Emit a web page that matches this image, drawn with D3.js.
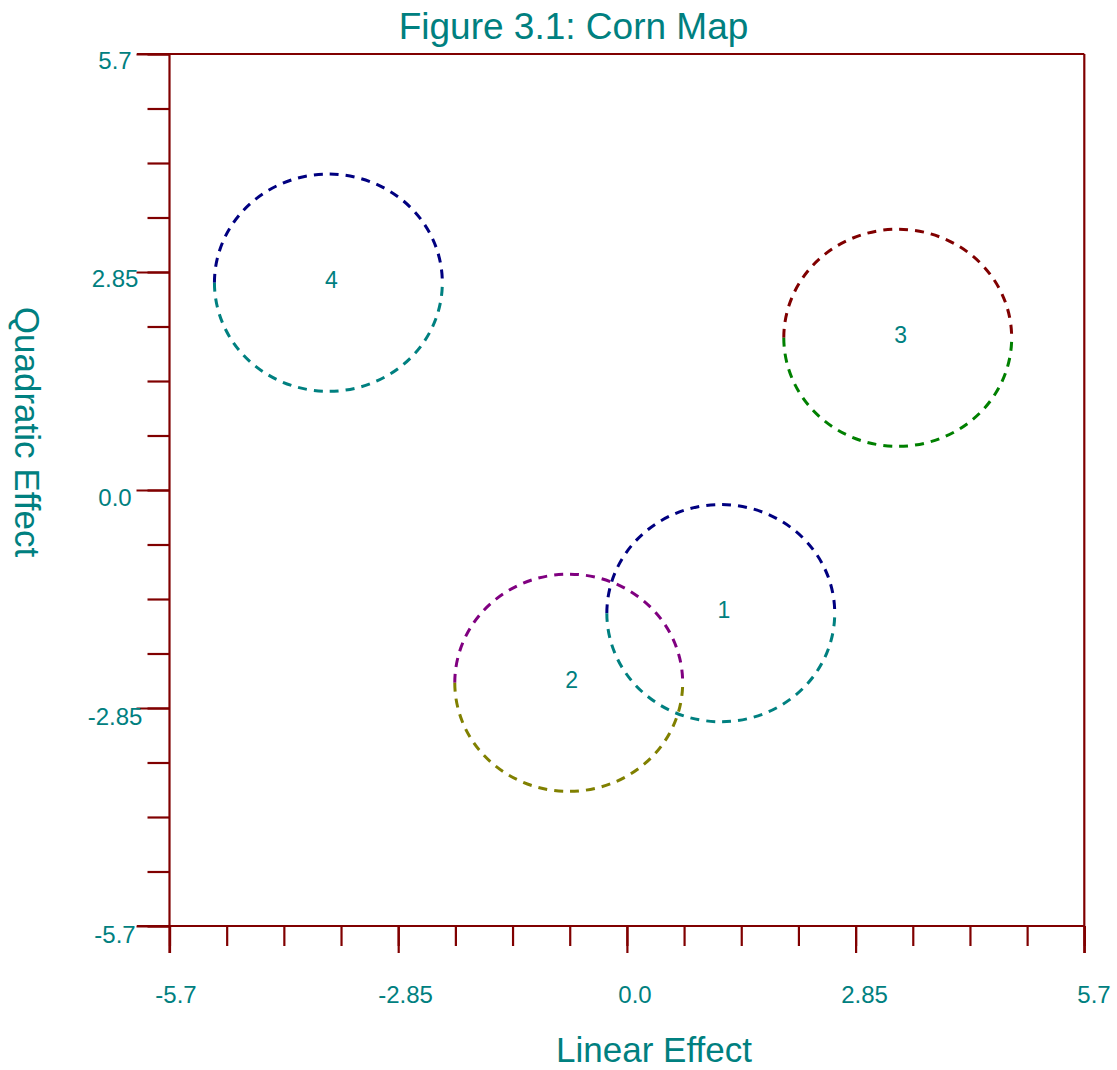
<!DOCTYPE html>
<html>
<head>
<meta charset="utf-8">
<script src="https://cdn.jsdelivr.net/npm/d3@7"></script>
<style>
  html, body { margin: 0; padding: 0; background: #ffffff; }
  svg { display: block; font-family: "Liberation Sans", Arial, sans-serif; }
</style>
</head>
<body>
<svg id="chart" width="1117" height="1070"></svg>
<script>
// Group centres on the linear / quadratic effect plane
const groups = ["1", "2", "3", "4"];
const linearEffect = [1.17, -0.725, 3.375, -3.72];
const quadraticEffect = [-1.61, -2.52, 1.99, 2.71];
const radius = [1.42, 1.42, 1.42, 1.42];
const upperColors = ["#000080", "#800080", "#800000", "#000080"];
const lowerColors = ["#008080", "#808000", "#008000", "#008080"];

// Axis ticks
const minorTicks = [-5.7, -4.9875, -4.275, -3.5625, -2.85, -2.1375, -1.425, -0.7125,
                    0, 0.7125, 1.425, 2.1375, 2.85, 3.5625, 4.275, 4.9875, 5.7];
const majorTicks = [-5.7, -2.85, 0, 2.85, 5.7];
const tickLabels = ["-5.7", "-2.85", "0.0", "2.85", "5.7"];

const frameColor = "#800000";
const textColor = "#008080";

const svg = d3.select("#chart");

const x = d3.scaleLinear().domain([-5.7, 5.7]).range([169.5, 1084.3]);
const y = d3.scaleLinear().domain([-5.7, 5.7]).range([926, 54]);
// label placement scales (labels sit slightly right of / below their ticks)
const xLab = d3.scaleLinear().domain([-5.7, 5.7]).range([176, 1094]);
const yLab = d3.scaleLinear().domain([-5.7, 5.7]).range([943.3, 68.6]);

// Title
svg.append("text")
  .attr("x", 573.5).attr("y", 39)
  .attr("text-anchor", "middle")
  .attr("font-size", 37)
  .attr("fill", textColor)
  .text("Figure 3.1: Corn Map");

// Axis titles
svg.append("text")
  .attr("x", 654).attr("y", 1062)
  .attr("text-anchor", "middle")
  .attr("font-size", 35)
  .attr("fill", textColor)
  .text("Linear Effect");

svg.append("text")
  .attr("transform", "translate(15,432) rotate(90)")
  .attr("text-anchor", "middle")
  .attr("font-size", 35)
  .attr("fill", textColor)
  .text("Quadratic Effect");

// Frame
const frame = svg.append("g")
  .attr("stroke", frameColor)
  .attr("stroke-width", 2.2)
  .attr("fill", "none");
frame.append("line").attr("x1", 137).attr("x2", x(5.7)).attr("y1", y(5.7)).attr("y2", y(5.7));
frame.append("line").attr("x1", 137).attr("x2", x(5.7)).attr("y1", y(-5.7)).attr("y2", y(-5.7));
frame.append("line").attr("x1", x(-5.7)).attr("x2", x(-5.7)).attr("y1", y(5.7)).attr("y2", 953);
frame.append("line").attr("x1", x(5.7)).attr("x2", x(5.7)).attr("y1", y(5.7)).attr("y2", 953);

// Axes: minor and major tick marks
function styleAxis(g) {
  g.select(".domain").remove();
  g.selectAll(".tick line").attr("stroke", frameColor).attr("stroke-width", 2.2);
  g.selectAll(".tick text").remove();
}

svg.append("g")
  .attr("transform", `translate(${x(-5.7)},0)`)
  .call(d3.axisLeft(y).tickValues(minorTicks).tickSize(22).tickFormat(""))
  .call(styleAxis);
svg.append("g")
  .attr("transform", `translate(${x(-5.7)},0)`)
  .call(d3.axisLeft(y).tickValues(majorTicks).tickSize(33).tickFormat(""))
  .call(styleAxis);

svg.append("g")
  .attr("transform", `translate(0,${y(-5.7)})`)
  .call(d3.axisBottom(x).tickValues(minorTicks).tickSize(20).tickFormat(""))
  .call(styleAxis);
svg.append("g")
  .attr("transform", `translate(0,${y(-5.7)})`)
  .call(d3.axisBottom(x).tickValues(majorTicks).tickSize(27).tickFormat(""))
  .call(styleAxis);

// Tick labels
svg.append("g").selectAll("text")
  .data(majorTicks)
  .join("text")
  .attr("x", 115)
  .attr("y", d => yLab(d))
  .attr("text-anchor", "middle")
  .attr("font-size", 24)
  .attr("fill", textColor)
  .text((d, i) => tickLabels[i]);

svg.append("g").selectAll("text")
  .data(majorTicks)
  .join("text")
  .attr("x", d => xLab(d))
  .attr("y", 1003)
  .attr("text-anchor", "middle")
  .attr("font-size", 24)
  .attr("fill", textColor)
  .text((d, i) => tickLabels[i]);

// Group circles: upper and lower halves drawn in separate colours
const data = groups.map((g, i) => ({
  name: g,
  lx: linearEffect[i],
  qy: quadraticEffect[i],
  r: radius[i],
  upper: upperColors[i],
  lower: lowerColors[i]
}));

function halfPath(d, upper) {
  const cx = x(d.lx), cy = y(d.qy);
  const rx = x(d.lx + d.r) - cx;
  const ry = cy - y(d.qy + d.r);
  return `M${cx - rx},${cy} A${rx},${ry} 0 0 ${upper ? 1 : 0} ${cx + rx},${cy}`;
}

const circles = svg.append("g").attr("fill", "none")
  .attr("stroke-width", 3)
  .attr("stroke-dasharray", "9,7");

circles.selectAll("path.upper")
  .data(data)
  .join("path")
  .attr("class", "upper")
  .attr("d", d => halfPath(d, true))
  .attr("stroke", d => d.upper);

circles.selectAll("path.lower")
  .data(data)
  .join("path")
  .attr("class", "lower")
  .attr("d", d => halfPath(d, false))
  .attr("stroke", d => d.lower);

// Group labels at the circle centres
svg.append("g").selectAll("text")
  .data(data)
  .join("text")
  .attr("x", d => x(d.lx) + 3)
  .attr("y", d => y(d.qy) + 5)
  .attr("text-anchor", "middle")
  .attr("font-size", 23)
  .attr("fill", textColor)
  .text(d => d.name);
</script>
</body>
</html>
